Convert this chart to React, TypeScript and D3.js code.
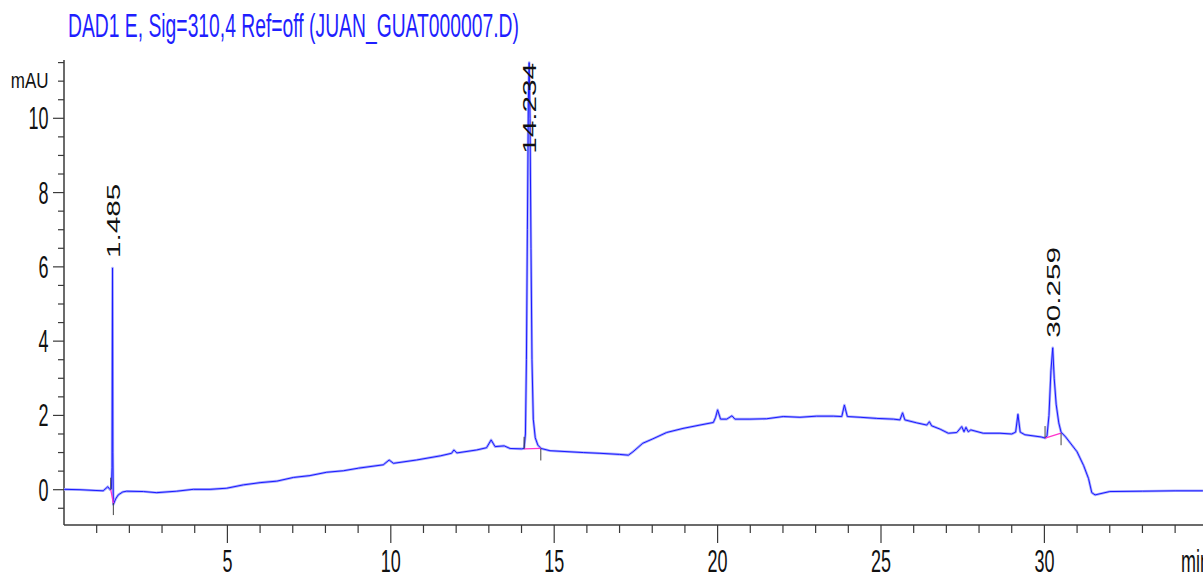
import React from 'react';
import * as d3 from 'd3';

const W = 1203;
const H = 574;

const title = 'DAD1 E, Sig=310,4 Ref=off (JUAN_GUAT000007.D)';
const yUnit = 'mAU';
const xUnit = 'min';

const times = [
  0.0, 0.49, 0.95, 1.2, 1.34, 1.41, 1.45, 1.47, 1.485, 1.495, 1.51, 1.58, 1.66, 1.8, 1.92,
  2.43, 2.84, 3.45, 3.96, 4.47, 4.98, 5.49, 6.0, 6.51, 7.02, 7.53, 8.04, 8.55, 9.01, 9.77,
  9.95, 10.08, 10.79, 11.51, 11.86, 11.93, 12.02, 12.63, 12.93, 13.07, 13.19, 13.47, 13.65,
  14.0, 14.08, 14.12, 14.15, 14.18, 14.21, 14.234, 14.26, 14.29, 14.32, 14.36, 14.42, 14.5,
  14.6, 14.87, 15.89, 16.4, 17.0, 17.27, 17.41, 17.71, 18.02, 18.44, 18.94, 19.46, 19.87,
  19.94, 20.0, 20.09, 20.28, 20.44, 20.53, 20.99, 21.5, 22.01, 22.52, 23.03, 23.54, 23.8,
  23.88, 23.97, 24.36, 24.87, 25.38, 25.58, 25.66, 25.73, 26.09, 26.4, 26.48, 26.55, 26.81,
  27.06, 27.32, 27.47, 27.54, 27.6, 27.67, 27.75, 28.13, 28.64, 29.0, 29.12, 29.19, 29.26,
  29.4, 29.9, 30.02, 30.08, 30.14, 30.2, 30.255, 30.3, 30.36, 30.44, 30.51, 30.65, 31.0,
  31.2, 31.35, 31.45, 31.55, 32.0, 33.0, 34.0, 34.85,
];
const signal = [
  0.01, 0.0, -0.02, -0.03, 0.08, 0.0, 0.02, 0.6, 5.97, 1.0, -0.4, -0.25, -0.14, -0.06, -0.04,
  -0.05, -0.08, -0.04, 0.01, 0.01, 0.04, 0.13, 0.19, 0.23, 0.33, 0.38, 0.47, 0.51, 0.58, 0.67,
  0.8, 0.71, 0.8, 0.91, 0.98, 1.07, 0.99, 1.07, 1.13, 1.34, 1.16, 1.18, 1.11,
  1.1, 1.11, 1.5, 3.5, 7.0, 10.5, 11.5, 10.0, 6.5, 3.5, 1.9, 1.4, 1.2,
  1.11, 1.05, 1.0, 0.98, 0.95, 0.93, 1.02, 1.25, 1.37, 1.54, 1.65, 1.74, 1.81,
  1.95, 2.15, 1.9, 1.9, 1.99, 1.9, 1.9, 1.91, 1.97, 1.95, 1.98, 1.98, 1.97,
  2.28, 1.97, 1.95, 1.92, 1.9, 1.88, 2.07, 1.88, 1.8, 1.74, 1.83, 1.72, 1.63,
  1.52, 1.54, 1.7, 1.56, 1.68, 1.56, 1.61, 1.52, 1.52, 1.5, 1.55, 2.03, 1.55,
  1.48, 1.42, 1.39, 1.45, 2.0, 3.2, 3.82, 3.0, 2.3, 1.8, 1.55, 1.42, 1.02,
  0.65, 0.3, -0.08, -0.14, -0.05, -0.04, -0.03, -0.03,
];

const peakTimes = [1.485, 14.234, 30.255];
const peakApex = [5.97, 11.5, 3.82];
const peakLabels = ['1.485', '14.234', '30.259'];
const baseStartT = [1.43, 14.08, 30.02];
const baseStartV = [0.0, 1.1, 1.39];
const baseEndT = [1.51, 14.59, 30.51];
const baseEndV = [-0.36, 1.11, 1.52];

const xMajorTicks = [5, 10, 15, 20, 25, 30];
const xMinorTicks = [1, 2, 3, 4, 6, 7, 8, 9, 11, 12, 13, 14, 16, 17, 18, 19, 21, 22, 23, 24, 26, 27, 28, 29, 31, 32, 33, 34];
const yMajorTicks = [0, 2, 4, 6, 8, 10];
const yMinorTicks = [-0.5, 0.5, 1, 1.5, 2.5, 3, 3.5, 4.5, 5, 5.5, 6.5, 7, 7.5, 8.5, 9, 9.5, 10.5, 11, 11.5];

const FONT = "'Liberation Sans', Arial, sans-serif";
const STRETCH = 1.7;

function textWidthEm(s: string): number {
  let w = 0;
  for (const c of s) w += c === '.' ? 0.278 : 0.556;
  return w;
}

export default function App() {
  const x = d3.scaleLinear().domain([0, 35]).range([64, 64 + 35 * 32.68]);
  const y = d3.scaleLinear().domain([0, 10]).range([489.7, 118.3]);
  const axisX = 64;
  const axisY = 525;
  const plotTop = 60;

  const pts: [number, number][] = times.map((t, i) => [t, signal[i]]);
  const line = d3
    .line<[number, number]>()
    .x((d) => x(d[0]))
    .y((d) => y(d[1]));
  const path = line(pts) || '';

  const axisColor = '#3a3a3a';

  return (
    <svg
      width={W}
      height={H}
      style={{ position: 'absolute', left: 0, top: 0, background: '#fff', display: 'block' }}
      fontFamily={FONT}
    >
      <rect x={0} y={0} width={W} height={H} fill="#fff" />
      {/* title */}
      <g transform={`translate(68,37) scale(1,1.75)`}>
        <text x={0} y={0} fontSize={19} fill="#1f1fff" textLength={451} lengthAdjust="spacingAndGlyphs">
          {title}
        </text>
      </g>

      {/* y axis */}
      <line x1={axisX} y1={plotTop} x2={axisX} y2={axisY} stroke={axisColor} strokeWidth={1.5} />
      {yMinorTicks.map((v) => (
        <line key={'ym' + v} x1={axisX - 6} x2={axisX} y1={y(v)} y2={y(v)} stroke={axisColor} strokeWidth={1.2} />
      ))}
      {yMajorTicks.map((v) => (
        <g key={'yM' + v}>
          <line x1={axisX - 11} x2={axisX} y1={y(v)} y2={y(v)} stroke={axisColor} strokeWidth={1.2} />
          <g transform={`translate(48.5,${y(v) + 11}) scale(1,${STRETCH})`}>
            <text x={0} y={0} fontSize={18} textAnchor="end" fill="#111">
              {v}
            </text>
          </g>
        </g>
      ))}
      <g transform={`translate(48.5,88) scale(1,1.25)`}>
        <text x={0} y={0} fontSize={17} textAnchor="end" fill="#111">
          {yUnit}
        </text>
      </g>

      {/* x axis */}
      <line x1={axisX} y1={axisY} x2={W} y2={axisY} stroke={axisColor} strokeWidth={1.5} />
      {xMinorTicks.map((t) => (
        <line key={'xm' + t} x1={x(t)} x2={x(t)} y1={axisY} y2={axisY + 8} stroke={axisColor} strokeWidth={1.2} />
      ))}
      {xMajorTicks.map((t) => (
        <g key={'xM' + t}>
          <line x1={x(t)} x2={x(t)} y1={axisY} y2={axisY + 18} stroke={axisColor} strokeWidth={1.2} />
          <g transform={`translate(${x(t)},572) scale(1,${STRETCH})`}>
            <text x={0} y={0} fontSize={18} textAnchor="middle" fill="#111">
              {t}
            </text>
          </g>
        </g>
      ))}
      <g transform={`translate(1181,572) scale(1,${STRETCH})`}>
        <text x={0} y={0} fontSize={18} fill="#111">
          {xUnit}
        </text>
      </g>

      {/* trace */}
      <path d={path} fill="none" stroke="#a9acff" strokeWidth={2.6} strokeLinejoin="round" />
      <path d={path} fill="none" stroke="#1a1aff" strokeWidth={1} strokeLinejoin="round" />

      {/* integration baselines and markers */}
      {baseStartT.map((t, i) => {
        const xs = x(t);
        const ys = y(baseStartV[i]);
        const xe = x(baseEndT[i]);
        const ye = y(baseEndV[i]);
        return (
          <g key={'b' + i}>
            <line x1={xs} y1={ys} x2={xe} y2={ye} stroke="#ff33cc" strokeWidth={1.3} />
            <line x1={xs} y1={ys - 12} x2={xs} y2={ys} stroke="#444" strokeWidth={1} />
            <line x1={xe} y1={ye} x2={xe} y2={ye + 12} stroke="#444" strokeWidth={1} />
          </g>
        );
      })}

      {/* peak labels */}
      {peakTimes.map((t, i) => {
        const xc = x(t);
        const apexY = y(peakApex[i]);
        const len = textWidthEm(peakLabels[i]) * 18 * 1.65;
        const bottom = Math.max(Math.min(apexY - 10, 1e9), plotTop + 3 + len);
        const yb = Math.min(apexY - 10, bottom) < plotTop + 3 + len ? plotTop + 3 + len : apexY - 10;
        return (
          <g key={'pl' + i} transform={`translate(${xc + 7},${yb}) scale(1,1.65) rotate(-90)`}>
            <text x={0} y={0} fontSize={18} fill="#111">
              {peakLabels[i]}
            </text>
          </g>
        );
      })}
    </svg>
  );
}
